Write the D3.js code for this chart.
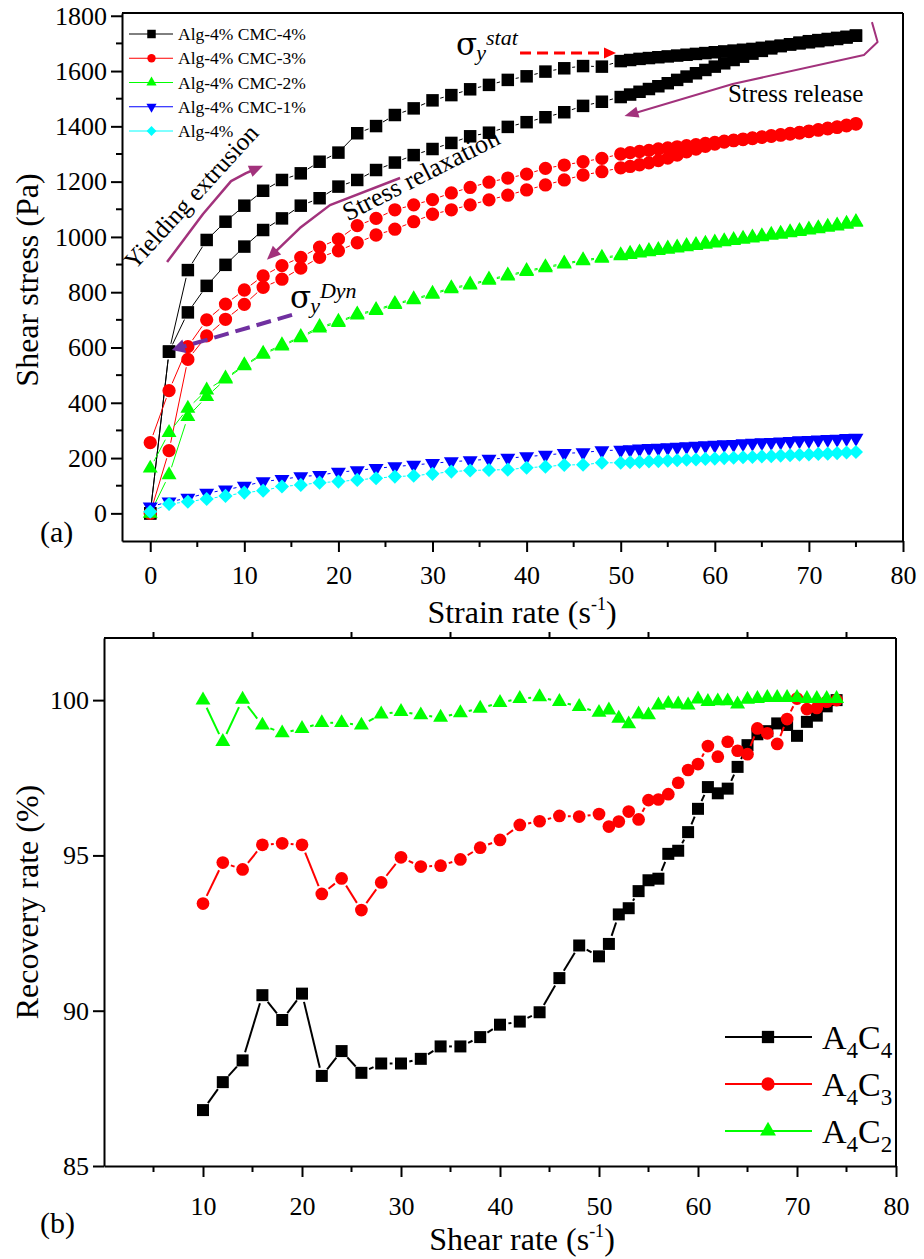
<!DOCTYPE html>
<html>
<head>
<meta charset="utf-8">
<script src="https://cdn.jsdelivr.net/npm/d3@7/dist/d3.min.js"></script>
<style>
html,body{margin:0;padding:0;background:#fff;}
svg text{font-family:"Liberation Serif","Times New Roman",serif;fill:#000;}
</style>
</head>
<body>
<svg id="chart" width="924" height="1259" xmlns="http://www.w3.org/2000/svg"></svg>
<script>
// ================= Panel (a) data =================
const aSparseX = [0,2,4,6,8,10,12,14,16,18,20,22,24,26,28,30,32,34,36,38,40,42,44,46,48];
const aDenseX  = [50,51,52,53,54,55,56,57,58,59,60,61,62,63,64,65,66,67,68,69,70,71,72,73,74,75];

const blackUpSparse   = [0,585,880,989,1055,1113,1167,1206,1230,1272,1305,1375,1401,1441,1465,1494,1513,1534,1550,1568,1581,1598,1610,1618,1616];
const blackUpDense    = [1636,1640,1644,1647,1650,1653,1656,1659,1662,1665,1668,1671,1674,1677,1680,1684,1688,1692,1696,1700,1704,1708,1712,1716,1721,1728];
const blackDownDense  = [1506,1515,1525,1535,1545,1556,1568,1580,1592,1604,1616,1628,1640,1652,1663,1673,1682,1690,1697,1703,1708,1712,1716,1720,1724,1728];
const blackDownSparse = [0,585,727,823,899,965,1025,1067,1113,1140,1182,1206,1242,1269,1296,1318,1340,1364,1377,1398,1415,1433,1451,1474,1489];

const redUpSparse   = [256,444,603,700,757,808,859,896,926,963,992,1041,1067,1098,1116,1135,1159,1179,1198,1213,1227,1248,1260,1272,1284];
const redUpDense    = [1300,1305,1309,1313,1318,1322,1326,1330,1334,1338,1342,1346,1350,1354,1358,1362,1366,1370,1374,1378,1383,1388,1393,1398,1404,1410];
const redDownDense  = [1250,1255,1261,1268,1276,1285,1296,1308,1318,1328,1336,1343,1348,1352,1356,1360,1364,1368,1372,1376,1381,1386,1391,1396,1402,1408];
const redDownSparse = [0,227,557,642,702,756,818,847,887,926,950,979,1007,1028,1055,1082,1098,1116,1134,1151,1170,1188,1206,1224,1236];

const greenUpSparse   = [163,292,380,446,489,537,579,609,639,675,694,721,737,759,776,796,816,829,847,862,878,892,905,917,926];
const greenUpDense    = [935,940,945,950,954,959,963,968,972,977,981,986,990,995,999,1004,1009,1013,1018,1023,1028,1033,1038,1043,1049,1055];
const greenDownDense  = [931,936,941,946,950,955,959,964,968,973,977,982,986,991,995,1000,1005,1009,1014,1019,1024,1029,1034,1039,1045,1052];
const greenDownSparse = [0,139,350,422,485,533,575,605,635,670,690,717,733,755,772,792,812,825,843,858,874,888,901,913,922];

const blueSparse = [24,42,55,73,85,99,115,123,133,138,149,155,163,169,175,181,187,191,196,200,205,211,217,220,227];
const blueDense  = [229,231,233,235,236,238,240,242,243,245,247,249,250,252,254,256,257,259,261,263,264,266,268,269,271,272];

const cyanSparse = [6,34,42,52,63,75,82,97,103,111,115,121,127,133,136,143,151,155,157,158,165,169,175,176,183];
const cyanDense  = [183,185,186,188,189,191,192,194,195,197,198,200,201,203,204,206,207,209,210,212,213,215,216,218,220,222];

const aLegendLabels = ["Alg-4% CMC-4%","Alg-4% CMC-3%","Alg-4% CMC-2%","Alg-4% CMC-1%","Alg-4%"];
const aColors = ["#000000","#ff0000","#00ff00","#0000ff","#00ffff"];
const aXTicks = [0,10,20,30,40,50,60,70,80];
const aXMinor = [5,15,25,35,45,55,65,75];
const aYTicks = [0,200,400,600,800,1000,1200,1400,1600,1800];
const aYMinor = [100,300,500,700,900,1100,1300,1500,1700];

// ================= Panel (b) data =================
const bX = [10,12,14,16,18,20,22,24,26,28,30,32,34,36,38,40,42,44,46,48,50,
            51,52,53,54,55,56,57,58,59,60,61,62,63,64,65,66,67,68,69,70,71,72,73,74];
const bA4C4 = [86.8,87.7,88.4,90.5,89.7,90.55,87.9,88.7,88.0,88.3,88.3,88.45,88.85,88.85,89.15,89.55,89.65,89.95,91.05,92.1,91.75,
               92.15,93.1,93.3,93.85,94.2,94.25,95.05,95.15,95.75,96.5,97.2,97.0,97.15,97.85,98.55,98.9,99.0,99.25,99.2,98.85,99.3,99.5,99.8,100.0];
const bA4C3 = [93.45,94.77,94.55,95.34,95.39,95.34,93.76,94.26,93.24,94.13,94.94,94.64,94.67,94.87,95.25,95.5,95.98,96.1,96.27,96.25,96.33,
               95.93,96.09,96.41,96.16,96.78,96.8,96.97,97.34,97.75,97.94,98.52,98.18,98.66,98.37,98.26,99.09,98.93,98.59,99.39,100.05,99.71,99.75,99.95,100.0];
const bA4C2 = [100.0,98.66,100.02,99.19,98.94,99.08,99.27,99.27,99.19,99.55,99.63,99.52,99.44,99.59,99.73,99.92,100.05,100.1,99.95,99.79,99.6,
               99.68,99.41,99.23,99.55,99.52,99.84,99.89,99.87,99.84,100.03,99.95,99.97,99.97,99.87,100.02,100.05,100.08,100.08,100.08,100.08,100.05,100.05,100.05,100.05];
const bColors = ["#000000","#ff0000","#00ff00"];
const bXTicks = [10,20,30,40,50,60,70,80];
const bXMinor = [5,15,25,35,45,55,65,75];
const bYTicks = [85,90,95,100];

// ================= Drawing =================
const svg = d3.select("#chart");
const FONT = '"Liberation Serif","Times New Roman",serif';

const SH = {
  square:  {type:d3.symbolSquare,   rot:0},
  circle:  {type:d3.symbolCircle,   rot:0},
  tri:     {type:d3.symbolTriangle, rot:0},
  triDown: {type:d3.symbolTriangle, rot:180},
  diamond: {type:d3.symbolSquare,   rot:45}
};

function drawMarkers(g, pts, shape, size, color){
  g.append("g").selectAll("path").data(pts).join("path")
    .attr("d", d3.symbol().type(shape.type).size(size)())
    .attr("transform", d => `translate(${d[0]},${d[1]}) rotate(${shape.rot})`)
    .attr("fill", color);
}
function drawGapLine(g, pts, color, width, gap){
  const segs = [];
  for (let i = 1; i < pts.length; i++){
    const [x1,y1] = pts[i-1], [x2,y2] = pts[i];
    const dx = x2-x1, dy = y2-y1, L = Math.hypot(dx,dy);
    if (L > 2*gap + 1){
      const ux = dx/L, uy = dy/L;
      segs.push([x1+ux*gap, y1+uy*gap, x2-ux*gap, y2-uy*gap]);
    }
  }
  g.append("g").selectAll("line").data(segs).join("line")
    .attr("x1",d=>d[0]).attr("y1",d=>d[1]).attr("x2",d=>d[2]).attr("y2",d=>d[3])
    .attr("stroke", color).attr("stroke-width", width);
}
function styleAxis(g, fontSize){
  g.attr("font-family", FONT);
  g.selectAll("path.domain").attr("stroke","#000").attr("stroke-width",2);
  g.selectAll(".tick line").attr("stroke","#000").attr("stroke-width",2);
  g.selectAll(".tick text").attr("font-family",FONT).attr("font-size",fontSize).attr("fill","#000");
}
function arrow(g, pts, color, width, headLen, headHalf, dash){
  const n = pts.length;
  const [tx,ty] = pts[n-1], [fx,fy] = pts[n-2];
  const L = Math.hypot(tx-fx, ty-fy), ux = (tx-fx)/L, uy = (ty-fy)/L;
  const linePts = pts.slice(0,n-1).concat([[tx-ux*headLen*0.8, ty-uy*headLen*0.8]]);
  g.append("path").attr("d", d3.line().curve(d3.curveLinear)(linePts))
    .attr("fill","none").attr("stroke",color).attr("stroke-width",width)
    .attr("stroke-linejoin","round").attr("stroke-dasharray", dash || null);
  const bx = tx-ux*headLen, by = ty-uy*headLen;
  g.append("path").attr("d", `M${tx},${ty}L${bx-uy*headHalf},${by+ux*headHalf}L${bx+uy*headHalf},${by-ux*headHalf}Z`).attr("fill",color);
}

// ---------- Panel (a) ----------
const xA = d3.scaleLinear().domain([-3,80]).range([122,903]);
const yA = d3.scaleLinear().domain([-100,1810]).range([541,13]);
const gA = svg.append("g");

gA.append("line").attr("x1",xA(-3)).attr("x2",xA(80)).attr("y1",yA(1810)).attr("y2",yA(1810)).attr("stroke","#000").attr("stroke-width",2);
gA.append("line").attr("x1",xA(80)).attr("x2",xA(80)).attr("y1",yA(1810)).attr("y2",yA(-100)).attr("stroke","#000").attr("stroke-width",2);

const axAx = gA.append("g").attr("transform",`translate(0,${yA(-100)})`)
  .call(d3.axisBottom(xA).tickValues(aXTicks).tickFormat(d3.format("d")).tickSize(11).tickSizeOuter(0).tickPadding(14));
axAx.append("g").selectAll("line").data(aXMinor).join("line")
  .attr("x1",d=>xA(d)).attr("x2",d=>xA(d)).attr("y1",0).attr("y2",6).attr("stroke","#000").attr("stroke-width",2);
styleAxis(axAx, 26);

const ayAx = gA.append("g").attr("transform",`translate(${xA(-3)},0)`)
  .call(d3.axisLeft(yA).tickValues(aYTicks).tickFormat(d3.format("d")).tickSize(11).tickSizeOuter(0).tickPadding(4));
ayAx.append("g").selectAll("line").data(aYMinor).join("line")
  .attr("y1",d=>yA(d)).attr("y2",d=>yA(d)).attr("x1",0).attr("x2",-6).attr("stroke","#000").attr("stroke-width",2);
styleAxis(ayAx, 26);

const pA = (xs, ys) => xs.map((x,i) => [xA(x), yA(ys[i])]);
const rev = a => a.slice().reverse();
const aSeries = [
  {shape:SH.square, size:156, up:[aSparseX.concat(aDenseX), blackUpSparse.concat(blackUpDense)],
   down:[rev(aDenseX).concat(rev(aSparseX)), rev(blackDownDense).concat(rev(blackDownSparse))]},
  {shape:SH.circle, size:139, up:[aSparseX.concat(aDenseX), redUpSparse.concat(redUpDense)],
   down:[rev(aDenseX).concat(rev(aSparseX)), rev(redDownDense).concat(rev(redDownSparse))]},
  {shape:SH.tri, size:97, up:[aSparseX.concat(aDenseX), greenUpSparse.concat(greenUpDense)],
   down:[rev(aDenseX).concat(rev(aSparseX)), rev(greenDownDense).concat(rev(greenDownSparse))]},
  {shape:SH.triDown, size:97, up:[aSparseX.concat(aDenseX), blueSparse.concat(blueDense)], down:null},
  {shape:SH.diamond, size:100, up:[aSparseX.concat(aDenseX), cyanSparse.concat(cyanDense)], down:null}
];
aSeries.forEach((s,i) => {
  const g = gA.append("g");
  const branches = [s.up].concat(s.down ? [s.down] : []);
  branches.forEach(b => drawGapLine(g, pA(b[0], b[1]), aColors[i], 1, 8));
  branches.forEach(b => drawMarkers(g, pA(b[0], b[1]), s.shape, s.size, aColors[i]));
});

// legend (a)
const legA = gA.append("g");
const legAShapes = [[SH.square,72],[SH.circle,55],[SH.tri,45],[SH.triDown,45],[SH.diamond,48]];
aLegendLabels.forEach((lab,i) => {
  const y = 34 + i*24.25;
  legA.append("line").attr("x1",129).attr("x2",173).attr("y1",y).attr("y2",y).attr("stroke",aColors[i]).attr("stroke-width",1);
  legA.append("path").attr("d", d3.symbol().type(legAShapes[i][0].type).size(legAShapes[i][1])())
    .attr("transform",`translate(151.5,${y}) rotate(${legAShapes[i][0].rot})`).attr("fill",aColors[i]);
  legA.append("text").attr("x",178).attr("y",y+6).attr("font-size",17.5).text(lab);
});

// annotations (a)
const ann = gA.append("g");
const P = (x,y) => [xA(x), yA(y)];
const purple = "#a2327c";
arrow(ann, [P(1.79,909),P(5.61,1083),P(8.59,1202),P(10.18,1231),P(11.99,1257)], purple, 2.5, 14, 6);
arrow(ann, [P(26.55,1213),P(19.1,1115),P(15.9,1032),P(12.4,917)], purple, 2.5, 14, 6);
arrow(ann, [P(76.7,1777),P(77.3,1705),P(75.85,1658),P(61.9,1553),P(50.4,1437)], purple, 2, 14, 5.5);
arrow(ann, [P(39.3,1665),P(49.5,1665)], "#ff0000", 3, 12, 5.5, "11,6");
arrow(ann, [P(15.07,718),P(2.3,591)], "#7030a0", 4, 13, 7, "15,7");

const tY = P(4.56,1139);
ann.append("text").attr("transform",`translate(${tY[0]},${tY[1]}) rotate(-47.5)`)
  .attr("text-anchor","middle").attr("dominant-baseline","middle").attr("font-size",25).text("Yielding extrusion");
const tR = P(28.9,1217);
ann.append("text").attr("transform",`translate(${tR[0]},${tR[1]}) rotate(-27)`)
  .attr("text-anchor","middle").attr("dominant-baseline","middle").attr("font-size",26).text("Stress relaxation");
const tS = P(61.4,1489);
ann.append("text").attr("x",tS[0]).attr("y",tS[1]).attr("font-size",25).text("Stress release");

function sigma(g, x, y, sup){
  const t = g.append("text").attr("x",x).attr("y",y).attr("font-size",31);
  t.append("tspan").attr("font-family",'"DejaVu Serif",serif').text("σ");
  t.append("tspan").attr("font-size",22).attr("font-style","italic").attr("dx",-1).attr("dy",5).text("y");
  t.append("tspan").attr("font-size",22).attr("font-style","italic").attr("dx",0).attr("dy",-15).text(sup);
}
const s1 = P(32.5,1658); sigma(ann, s1[0], s1[1], "stat");
const s2 = P(14.85,743); sigma(ann, s2[0], s2[1], "Dyn");

// axis titles (a)
const tA = svg.append("text").attr("x",522).attr("y",623).attr("text-anchor","middle").attr("font-size",32);
tA.append("tspan").text("Strain rate (s");
tA.append("tspan").attr("font-size",18).attr("dy",-13).text("-1");
tA.append("tspan").attr("dy",13).text(")");
svg.append("text").attr("transform","translate(38,280) rotate(-90)").attr("text-anchor","middle").attr("font-size",32).text("Shear stress (Pa)");
svg.append("text").attr("x",40).attr("y",542).attr("font-size",30).text("(a)");

// ---------- Panel (b) ----------
const xB = d3.scaleLinear().domain([0,80]).range([104,896]);
const yB = d3.scaleLinear().domain([85,102]).range([1166,638]);
const gB = svg.append("g");

gB.append("line").attr("x1",xB(0)).attr("x2",xB(80)).attr("y1",yB(102)).attr("y2",yB(102)).attr("stroke","#000").attr("stroke-width",2);
gB.append("line").attr("x1",xB(80)).attr("x2",xB(80)).attr("y1",yB(102)).attr("y2",yB(85)).attr("stroke","#000").attr("stroke-width",2);
gB.append("g").selectAll("line").data(bXMinor).join("line")
  .attr("x1",d=>xB(d)).attr("x2",d=>xB(d)).attr("y1",yB(102)).attr("y2",yB(102)-6).attr("stroke","#000").attr("stroke-width",2);

const bxAx = gB.append("g").attr("transform",`translate(0,${yB(85)})`)
  .call(d3.axisBottom(xB).tickValues(bXTicks).tickFormat(d3.format("d")).tickSize(11).tickSizeOuter(0).tickPadding(20));
bxAx.append("g").selectAll("line").data(bXMinor).join("line")
  .attr("x1",d=>xB(d)).attr("x2",d=>xB(d)).attr("y1",0).attr("y2",6).attr("stroke","#000").attr("stroke-width",2);
styleAxis(bxAx, 26);

const byAx = gB.append("g").attr("transform",`translate(${xB(0)},0)`)
  .call(d3.axisLeft(yB).tickValues(bYTicks).tickFormat(d3.format("d")).tickSize(11).tickSizeOuter(0).tickPadding(4));
styleAxis(byAx, 26);

const bSeries = [
  {vals:bA4C4, shape:SH.square, size:144},
  {vals:bA4C3, shape:SH.circle, size:127},
  {vals:bA4C2, shape:SH.tri, size:97}
];
bSeries.forEach((s,i) => {
  const g = gB.append("g");
  const pts = bX.map((x,j) => [xB(x), yB(s.vals[j])]);
  drawGapLine(g, pts, bColors[i], 2, 8.5);
  drawMarkers(g, pts, s.shape, s.size, bColors[i]);
});

// legend (b)
const legB = gB.append("g");
const legBNames = [["A","4","C","4"],["A","4","C","3"],["A","4","C","2"]];
const legBShapes = [[SH.square,151],[SH.circle,139],[SH.tri,111]];
legBNames.forEach((nm,i) => {
  const y = 1037 + i*47;
  legB.append("line").attr("x1",725).attr("x2",812).attr("y1",y).attr("y2",y).attr("stroke",bColors[i]).attr("stroke-width",2);
  legB.append("path").attr("d", d3.symbol().type(legBShapes[i][0].type).size(legBShapes[i][1])())
    .attr("transform",`translate(768,${y})`).attr("fill",bColors[i]);
  const t = legB.append("text").attr("x",822).attr("y",y+12).attr("font-size",34);
  t.append("tspan").text(nm[0]);
  t.append("tspan").attr("font-size",23).attr("dy",9).text(nm[1]);
  t.append("tspan").attr("dy",-9).text(nm[2]);
  t.append("tspan").attr("font-size",23).attr("dy",9).text(nm[3]);
});

// axis titles (b)
const tB = svg.append("text").attr("x",522).attr("y",1250).attr("text-anchor","middle").attr("font-size",32);
tB.append("tspan").text("Shear rate (s");
tB.append("tspan").attr("font-size",18).attr("dy",-13).text("-1");
tB.append("tspan").attr("dy",13).text(")");
svg.append("text").attr("transform","translate(38,902) rotate(-90)").attr("text-anchor","middle").attr("font-size",32).text("Recovery rate (%)");
svg.append("text").attr("x",40).attr("y",1233).attr("font-size",30).text("(b)");
</script>
</body>
</html>
